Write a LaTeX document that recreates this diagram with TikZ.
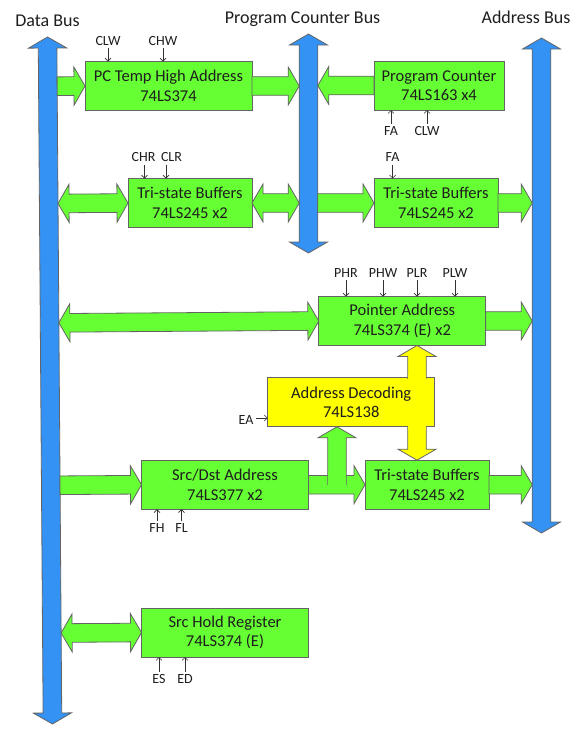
\documentclass[tikz,border=0pt]{standalone}
\usepackage{fontspec}
\setmainfont{Carlito}
\usetikzlibrary{calc,arrows.meta}
\pgfdeclarelayer{bg}
\pgfsetlayers{bg,main}
\definecolor{gfill}{RGB}{102,255,51}
\definecolor{bfill}{RGB}{52,146,245}
\definecolor{yfill}{RGB}{255,255,0}
\definecolor{outl}{RGB}{100,100,100}
\definecolor{txt}{RGB}{30,30,30}
\definecolor{sigc}{RGB}{50,50,50}
\newcommand\boxfont{\fontsize{16.5}{19.5}\selectfont}
\newcommand\sigfont{\fontsize{14}{16}\selectfont}
\newcommand\titlefont{\fontsize{18}{21}\selectfont}
\newcommand\FAs{9.3pt}
\newcommand\FAh{19pt}
\newcommand\FAL{11pt}
% single fat arrow: style, start, end
\newcommand\fatone[3]{%
  \coordinate (fA) at #2; \coordinate (fB) at #3;
  \coordinate (fC) at ($(fB)!\FAL!(fA)$);
  \filldraw[#1] ($(fA)!\FAs!90:(fB)$) -- ($(fC)!\FAs!-90:(fA)$) -- ($(fC)!\FAh!-90:(fA)$)
    -- (fB) -- ($(fC)!\FAh!90:(fA)$) -- ($(fC)!\FAs!90:(fA)$) -- ($(fA)!\FAs!-90:(fB)$) -- cycle;}
% double fat arrow: style, start, end
\newcommand\fattwo[3]{%
  \coordinate (fA) at #2; \coordinate (fB) at #3;
  \coordinate (fC) at ($(fB)!\FAL!(fA)$);
  \coordinate (fD) at ($(fA)!\FAL!(fB)$);
  \filldraw[#1] (fA) -- ($(fD)!\FAh!90:(fB)$) -- ($(fD)!\FAs!90:(fB)$) -- ($(fC)!\FAs!-90:(fA)$)
    -- ($(fC)!\FAh!-90:(fA)$) -- (fB) -- ($(fC)!\FAh!90:(fA)$) -- ($(fC)!\FAs!90:(fA)$)
    -- ($(fD)!\FAs!-90:(fB)$) -- ($(fD)!\FAh!-90:(fB)$) -- cycle;}
\begin{document}
\begin{tikzpicture}[x=1pt,y=-1pt,
  box/.style={inner sep=0pt, outer sep=0pt, align=center, font=\boxfont, text=txt},
  wide/.style={box, minimum width=167pt, minimum height=49pt},
  narrow/.style={box, minimum width=124pt, minimum height=49pt},
  sig/.style={font=\sigfont, text=txt, inner sep=2.5pt, text height=9pt, text depth=0pt},
  sigarr/.style={draw=sigc, line width=0.6pt, -{Straight Barb[length=3pt,width=6pt]}},
  title/.style={font=\titlefont, text=txt, anchor=base, inner sep=0pt},
  gbox/.style={fill=gfill, draw=outl, line width=0.8pt},
  ybox/.style={fill=yfill, draw=outl, line width=0.8pt},
  garr/.style={fill=gfill, draw=outl, line width=0.8pt, line join=miter},
  yarr/.style={fill=yfill, draw=outl, line width=0.8pt, line join=miter},
  bus/.style={fill=bfill, draw=outl, line width=0.8pt, line join=miter}]
\useasboundingbox (0,0) rectangle (581,737);
% bus geometry
\coordinate (dbT) at (47.5,37); \coordinate (dbB) at (52.5,724);
\coordinate (dbRT) at (56.8,37); \coordinate (dbRB) at (61.8,724);
\coordinate (pcT) at (308.5,34); \coordinate (pcB) at (308.5,253);
\coordinate (pcL) at (299.2,0); \coordinate (pcR) at (317.8,0);
\coordinate (abT) at (541.5,38); \coordinate (abB) at (541.5,533);
\coordinate (abL) at (532.2,0);
\coordinate (yx) at (417,0); \coordinate (gx) at (337,0);
% titles
\node[title] (tdb) at (47.5,26.7) {Data Bus};
\node[title] (tpc) at (302.5,23.3) {Program Counter Bus};
\node[title] (tab) at (526,23.3) {Address Bus};
% boxes
\node[wide] (pct) at (168.5,86) {PC Temp High Address\\74LS374};
\node[box, minimum width=130pt, minimum height=49pt] (pc) at (439,85.5) {Program Counter\\74LS163 x4};
\node[narrow] (tsl) at (190,203) {Tri-state Buffers\\74LS245 x2};
\node[narrow] (tsr) at (436,203) {Tri-state Buffers\\74LS245 x2};
\node[wide] (pa) at (402.3,321) {Pointer Address\\74LS374 (E) x2};
\node[wide] (ad) at (351.2,402.3) {Address Decoding\\74LS138};
\node[wide] (sd) at (225,484.7) {Src/Dst Address\\74LS377 x2};
\node[narrow] (tsb) at (427,484.7) {Tri-state Buffers\\74LS245 x2};
\node[wide] (sh) at (225,632.5) {Src Hold Register\\74LS374 (E)};
% control signals
\node[sig] (s1) at (108,40.7) {CLW};
\node[sig] (s2) at (163,40.7) {CHW};
\draw[sigarr] (s1.south) -- (s1.south |- pct.north);
\draw[sigarr] (s2.south) -- (s2.south |- pct.north);
\node[sig] (s3) at (391,131) {FA};
\node[sig] (s4) at (427,131) {CLW};
\draw[sigarr] (s3.north) -- (s3.north |- pc.south);
\draw[sigarr] (s4.north) -- (s4.north |- pc.south);
\node[sig] (s5) at (143.5,157.3) {CHR};
\node[sig] (s6) at (171.5,157.3) {CLR};
\node[sig] (s7) at (392.6,157.3) {FA};
\draw[sigarr] ([xshift=1pt]s5.south) -- ([xshift=1pt]s5.south |- tsl.north);
\draw[sigarr] ([xshift=-5.5pt]s6.south) -- ([xshift=-5.5pt]s6.south |- tsl.north);
\draw[sigarr] (s7.south) -- (s7.south |- tsr.north);
\node[sig] (s8) at (346,273) {PHR};
\node[sig] (s9) at (383,273) {PHW};
\node[sig] (s10) at (417,273) {PLR};
\node[sig] (s11) at (455,273) {PLW};
\foreach \s in {s8,s9,s10,s11} \draw[sigarr] (\s.south) -- (\s.south |- pa.north);
\node[sig] (s12) at (246,420) {EA};
\draw[sigarr] ([yshift=2pt]s12.east) -- ([yshift=2pt]s12.east -| ad.west);
\node[sig] (s13) at (157,528) {FH};
\node[sig] (s14) at (181.5,528) {FL};
\draw[sigarr] (s13.north) -- (s13.north |- sd.south);
\draw[sigarr] (s14.north) -- (s14.north |- sd.south);
\node[sig] (s15) at (159,679) {ES};
\node[sig] (s16) at (185,679) {ED};
\draw[sigarr] (s15.north) -- (s15.north |- sh.south);
\draw[sigarr] (s16.north) -- (s16.north |- sh.south);
\begin{pgfonlayer}{bg}
\fill[white] (0,0) rectangle (581,737);
\fattwo{bus}{(dbT)}{(dbB)}
\fattwo{bus}{(pcT)}{(pcB)}
\fattwo{bus}{(abT)}{(abB)}
\foreach \n in {pct,pc,tsl,tsr,pa,sd,tsb,sh} \filldraw[gbox] (\n.north west) rectangle (\n.south east);
\fatone{garr}{($(dbRT)!(pct.west)!(dbRB)$)}{(pct.west)}
\fatone{garr}{(pct.east)}{(pcL |- pct.east)}
\fatone{garr}{(pc.west)}{(pcR |- pc.west)}
\fattwo{garr}{($(dbRT)!(tsl.west)!(dbRB)$)}{(tsl.west)}
\fattwo{garr}{(tsl.east)}{(pcL |- tsl.east)}
\fatone{garr}{(pcR |- tsr.west)}{(tsr.west)}
\fatone{garr}{(tsr.east)}{(abL |- tsr.east)}
\fattwo{garr}{($(dbRT)!(pa.west)!(dbRB)$)}{(pa.west)}
\fatone{garr}{(pa.east)}{(abL |- pa.east)}
\fatone{garr}{($(dbRT)!(sd.west)!(dbRB)$)}{(sd.west)}
\fatone{garr}{(tsb.east)}{(abL |- tsb.east)}
\fattwo{garr}{($(dbRT)!(sh.west)!(dbRB)$)}{(sh.west)}
% address decoding merged with yellow double arrow
\filldraw[ybox] (ad.north west) rectangle (ad.south east);
\fattwo{yarr}{(yx |- pa.south)}{(yx |- tsb.north)}
\fill[yfill] ($(ad.north west)+(0.7,0.7)$) rectangle ($(ad.south east)+(-0.7,-0.7)$);
\fill[yfill] ($(yx |- ad.north)+(-8.6,-3)$) rectangle ($(yx |- ad.south)+(8.6,3)$);
% src/dst to tri-state with T branch up to decoder
\fatone{garr}{(sd.east)}{(tsb.west)}
\fatone{garr}{(gx |- sd.east)}{(gx |- ad.south)}
\fill[gfill] ($(gx |- sd.east)+(-8.6,-13)$) rectangle ($(gx |- sd.east)+(8.6,5)$);
\end{pgfonlayer}
\end{tikzpicture}
\end{document}
